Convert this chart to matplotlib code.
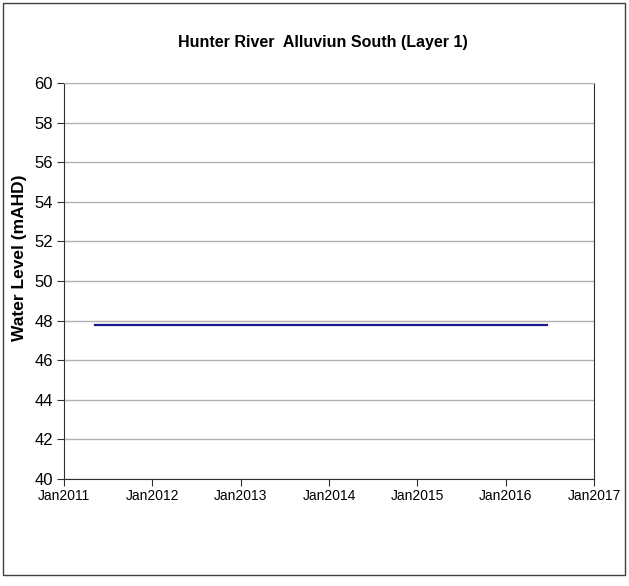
import matplotlib
matplotlib.use("Agg")
import matplotlib.pyplot as plt
import matplotlib.dates as mdates
from matplotlib.patches import Rectangle
import datetime as dt

plt.rcParams['font.family'] = ['Liberation Sans', 'DejaVu Sans']

title = "Hunter River  Alluviun South (Layer 1)"
ylabel = "Water Level (mAHD)"
dates = [dt.date(2011, 5, 10), dt.date(2016, 6, 20)]
levels = [47.8, 47.8]
tick_years = [2011, 2012, 2013, 2014, 2015, 2016, 2017]
y_ticks = list(range(40, 61, 2))

fig = plt.figure(figsize=(6.29, 5.86), dpi=100)
fig.patches.append(Rectangle((3/629, 1 - 575/586), 622/629, 572/586,
                             transform=fig.transFigure, fill=False,
                             edgecolor='#404040', linewidth=1.0))

ax = fig.add_axes([64/629, 1 - 479/586, 530/629, 396/586])
ax.plot(dates, levels, color='#1a1a8c', linewidth=1.6)

ax.set_ylim(40, 60)
ax.set_yticks(y_ticks)
ax.set_xlim(dt.date(2011, 1, 1), dt.date(2017, 1, 1))
xt = [dt.date(y, 1, 1) for y in tick_years]
ax.set_xticks(xt)
ax.set_xticklabels([f"Jan{y}" for y in tick_years])

ax.yaxis.grid(True, color='#b0b0b0', linewidth=1.0)
ax.set_axisbelow(True)
for s in ['left', 'bottom', 'right']:
    ax.spines[s].set_color('#303030')
ax.spines['top'].set_color('#b0b0b0')
ax.tick_params(axis='y', direction='out', length=5, labelsize=12, color='#303030', pad=3)
ax.tick_params(axis='x', direction='out', length=5, labelsize=10, color='#303030', pad=2)

ax.set_ylabel(ylabel, fontsize=12.5, fontweight='bold', va='center')
ax.yaxis.set_label_coords(-0.084, 0.558)
fig.text(323/629, 1 - 42/586, title, ha='center', va='center',
         fontsize=11.5, fontweight='bold')

fig.savefig("out.png", dpi=100)
